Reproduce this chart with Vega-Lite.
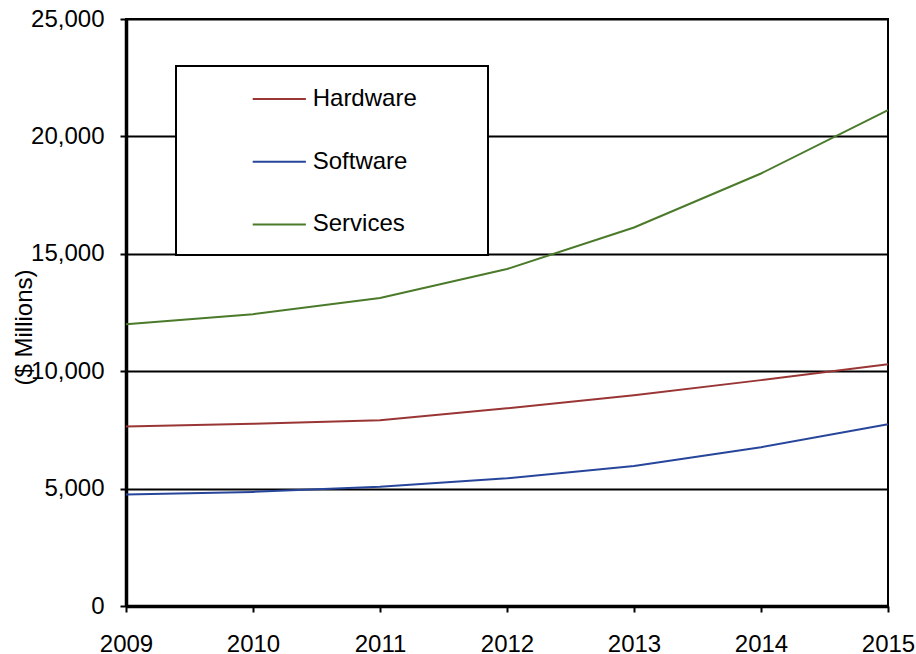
{
  "$schema": "https://vega.github.io/schema/vega-lite/v6.json",
  "width": 762,
  "height": 587,
  "autosize": {"type": "none"},
  "padding": {"left": 126, "top": 19, "right": 28, "bottom": 48},
  "background": "white",
  "data": {
    "values": [
      {"year": 2009, "series": "Hardware", "value": 7650},
      {"year": 2010, "series": "Hardware", "value": 7760},
      {"year": 2011, "series": "Hardware", "value": 7910},
      {"year": 2012, "series": "Hardware", "value": 8420},
      {"year": 2013, "series": "Hardware", "value": 8980},
      {"year": 2014, "series": "Hardware", "value": 9620},
      {"year": 2015, "series": "Hardware", "value": 10300},
      {"year": 2009, "series": "Software", "value": 4750},
      {"year": 2010, "series": "Software", "value": 4860},
      {"year": 2011, "series": "Software", "value": 5080},
      {"year": 2012, "series": "Software", "value": 5440},
      {"year": 2013, "series": "Software", "value": 5960},
      {"year": 2014, "series": "Software", "value": 6760},
      {"year": 2015, "series": "Software", "value": 7740},
      {"year": 2009, "series": "Services", "value": 12000},
      {"year": 2010, "series": "Services", "value": 12430},
      {"year": 2011, "series": "Services", "value": 13120},
      {"year": 2012, "series": "Services", "value": 14350},
      {"year": 2013, "series": "Services", "value": 16120},
      {"year": 2014, "series": "Services", "value": 18420},
      {"year": 2015, "series": "Services", "value": 21120}
    ]
  },
  "mark": {"type": "line", "strokeWidth": 2, "interpolate": "linear"},
  "encoding": {
    "x": {
      "field": "year",
      "type": "quantitative",
      "scale": {"domain": [2009, 2015], "nice": false, "zero": false},
      "axis": {
        "values": [2009, 2010, 2011, 2012, 2013, 2014, 2015],
        "format": "d",
        "title": null,
        "grid": false,
        "domainColor": "black",
        "domainWidth": 3.5,
        "tickColor": "black",
        "tickWidth": 2,
        "tickSize": 6,
        "labelPadding": 20,
        "labelFontSize": 24,
        "labelFont": "Liberation Sans",
        "labelColor": "black",
        "labelFlush": false,
        "labelOverlap": false
      }
    },
    "y": {
      "field": "value",
      "type": "quantitative",
      "scale": {"domain": [0, 25000], "nice": false},
      "axis": {
        "values": [0, 5000, 10000, 15000, 20000, 25000],
        "format": ",d",
        "title": "($ Millions)",
        "titleFont": "Liberation Sans",
        "titleFontSize": 24,
        "titleFontWeight": "normal",
        "titleColor": "black",
        "titleAngle": -90,
        "titleAlign": "center",
        "titleBaseline": "alphabetic",
        "titleX": -95,
        "titleY": 308,
        "grid": true,
        "gridColor": "black",
        "gridWidth": 2,
        "gridOpacity": 1,
        "domainColor": "black",
        "domainWidth": 3.5,
        "tickColor": "black",
        "tickWidth": 2,
        "tickSize": 6,
        "labelPadding": 16,
        "labelFontSize": 24,
        "labelFont": "Liberation Sans",
        "labelColor": "black",
        "labelOverlap": false
      }
    },
    "color": {
      "field": "series",
      "type": "nominal",
      "scale": {
        "domain": ["Hardware", "Software", "Services"],
        "range": ["#9a3535", "#27469b", "#4a7a2a"]
      },
      "legend": {
        "orient": "none",
        "legendX": 50,
        "legendY": 47,
        "direction": "vertical",
        "title": "\u00a0",
        "titleOrient": "right",
        "titlePadding": 53,
        "titleFontSize": 4,
        "padding": 18,
        "strokeColor": "black",
        "fillColor": "white",
        "symbolType": "M-1.9,0H1.9",
        "symbolSize": 784,
        "symbolStrokeWidth": 2,
        "symbolOffset": 70.3,
        "labelOffset": 18.4,
        "labelFont": "Liberation Sans",
        "labelFontSize": 24,
        "labelColor": "black",
        "rowPadding": 35.7,
        "encode": {
          "legend": {"update": {"strokeWidth": {"value": 2}}}
        }
      }
    }
  },
  "config": {
    "view": {"stroke": "black", "strokeWidth": 2},
    "font": "Liberation Sans"
  }
}
